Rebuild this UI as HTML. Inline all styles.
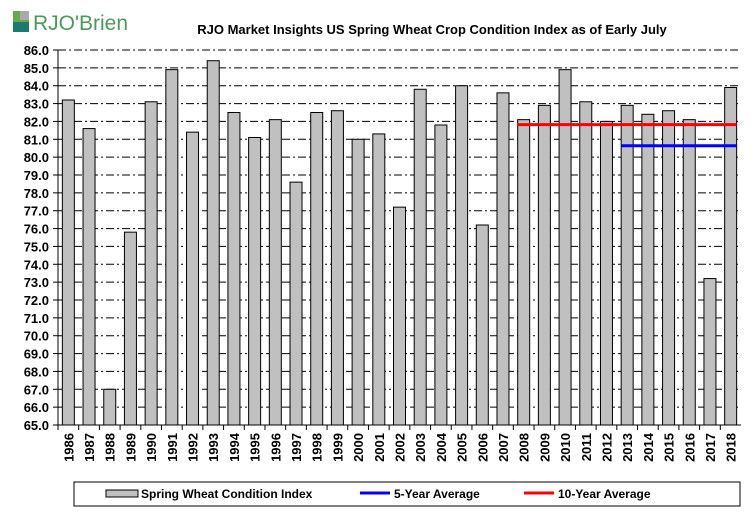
<!DOCTYPE html>
<html><head><meta charset="utf-8"><style>
body{margin:0;background:#fff;font-family:"Liberation Sans",Arial,sans-serif}
svg text{font-family:"Liberation Sans",Arial,sans-serif;font-weight:bold;fill:#000}
</style></head><body>
<svg id="c" width="756" height="516" xmlns="http://www.w3.org/2000/svg">
<g>
<rect x="13" y="11" width="16" height="16" fill="#6aa84f"/><rect x="20" y="11" width="9" height="9" fill="#aaa"/><rect x="13" y="22" width="16" height="10" fill="#1d7a6e"/>
<text x="33" y="30" font-size="21" style="font-weight:normal;fill:#4a9a5a">RJO'Brien</text>
</g>
<text x="432" y="34" font-size="13" text-anchor="middle">RJO Market Insights US Spring Wheat Crop Condition Index as of Early July</text>
<g id="grid"></g><g id="bars"></g><g id="lines"></g><g id="axes"></g>
<g>
<rect x="74" y="482" width="666" height="24" fill="#fff" stroke="#000"/>
<rect x="106" y="490" width="32" height="7" fill="#c0c0c0" stroke="#000"/>
<text x="141" y="498" font-size="12">Spring Wheat Condition Index</text>
<line x1="360" y1="493" x2="390" y2="493" stroke="#0000ff" stroke-width="3"/>
<text x="394" y="498" font-size="12">5-Year Average</text>
<line x1="524" y1="493" x2="554" y2="493" stroke="#ff0000" stroke-width="3"/>
<text x="558" y="498" font-size="12">10-Year Average</text>
</g>
</svg>
<script>
const years=["1986","1987","1988","1989","1990","1991","1992","1993","1994","1995","1996","1997","1998","1999","2000","2001","2002","2003","2004","2005","2006","2007","2008","2009","2010","2011","2012","2013","2014","2015","2016","2017","2018"];
const values=[83.2,81.6,67.0,75.8,83.1,84.9,81.4,85.4,82.5,81.1,82.1,78.6,82.5,82.6,81.0,81.3,77.2,83.8,81.8,84.0,76.2,83.6,82.1,82.9,84.9,83.1,82.0,82.9,82.4,82.6,82.1,73.2,83.9];
const avg5=[80.64];
const avg10=[81.82];
const yTicks=[65,66,67,68,69,70,71,72,73,74,75,76,77,78,79,80,81,82,83,84,85,86];
const NS="http://www.w3.org/2000/svg";
const L=58,R=741,T=50,B=425,yMin=65,yMax=86;
const y=v=>B-(v-yMin)/(yMax-yMin)*(B-T);
const bw=(R-L)/years.length;
const xc=i=>L+bw*(i+0.5);
function mk(tag,attrs,parent){const e=document.createElementNS(NS,tag);for(const k in attrs)e.setAttribute(k,attrs[k]);document.getElementById(parent).appendChild(e);return e;}
yTicks.forEach(t=>{
 if(t>yMin){const g=mk('line',{x1:L,x2:R,y1:y(t),y2:y(t),stroke:'#000','stroke-width':1,'stroke-dasharray':'8,3,2,3'},'grid');
 
 }
 const tk=mk('line',{x1:L-5,x2:L,y1:y(t),y2:y(t),stroke:'#000'},'axes');
 
 
 const lb=mk('text',{x:L-9,y:y(t)+5,'font-size':13,'text-anchor':'end'},'axes');lb.textContent=t.toFixed(1);
 
 
});
values.forEach((v,i)=>{
 const b=mk('rect',{x:xc(i)-6,y:y(v),width:12,height:B-y(v),fill:'#c0c0c0',stroke:'#000','stroke-width':1},'bars');
 
 
 const tk=mk('line',{x1:L+bw*i,x2:L+bw*i,y1:B,y2:B+5,stroke:'#000'},'axes');
 
 
 const lb=mk('text',{x:0,y:0,'font-size':13,'text-anchor':'end',transform:`translate(${xc(i)+5},${B+8}) rotate(-90)`},'axes');lb.textContent=years[i];
 
 
});
const ax=mk('line',{x1:L,x2:L,y1:T,y2:B,stroke:'#000'},'axes');


const bx=mk('line',{x1:L,x2:R,y1:B,y2:B,stroke:'#000'},'axes');


const i08=years.indexOf("2008"),i13=years.indexOf("2013"),iE=years.length-1;
const l10=mk('line',{x1:xc(i08)-6,x2:xc(iE)+6,y1:y(avg10[0]),y2:y(avg10[0]),stroke:'#ff0000','stroke-width':3},'lines');


const l5=mk('line',{x1:xc(i13)-6,x2:xc(iE)+6,y1:y(avg5[0]),y2:y(avg5[0]),stroke:'#0000ff','stroke-width':3},'lines');


</script>
</body></html>
